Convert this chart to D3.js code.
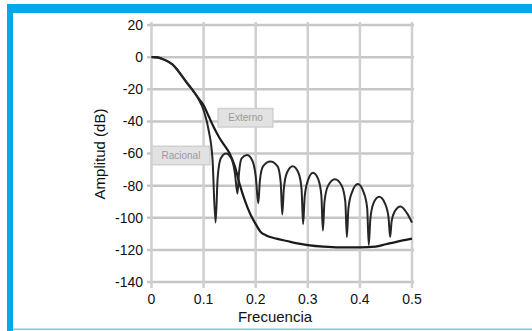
<!DOCTYPE html>
<html><head><meta charset="utf-8">
<script src="https://cdn.jsdelivr.net/npm/d3@7"></script>
<style>
html,body{margin:0;padding:0;background:#fff;}
svg{display:block;}
text{font-family:"Liberation Sans",Arial,sans-serif;fill:#111;}
</style></head>
<body><svg id="c" width="532" height="331"></svg>
<script>
const xTicks = [0, 0.1, 0.2, 0.3, 0.4, 0.5];
const xTickLabels = ["0", "0.1", "0.2", "0.3", "0.4", "0.5"];
const yTicks = [20, 0, -20, -40, -60, -80, -100, -120, -140];
const yTickLabels = ["20", "0", "-20", "-40", "-60", "-80", "-100", "-120", "-140"];
const seriesNames = ["Externo", "Racional"];

// Smooth curve
const freqA = [0, 0.01, 0.02, 0.03, 0.04, 0.05, 0.06, 0.07, 0.08, 0.09, 0.10, 0.11, 0.12, 0.13, 0.14, 0.15, 0.16, 0.17, 0.18, 0.19, 0.20, 0.21, 0.22, 0.24, 0.26, 0.28, 0.30, 0.33, 0.36, 0.40, 0.43, 0.45, 0.47, 0.50];
const dbA   = [0, 0, -1, -2.5, -4.5, -8, -12.5, -17, -21, -25.5, -30, -37, -44, -50, -55, -60, -68, -80, -90, -98, -104, -109, -111, -113, -114.5, -116, -117, -118, -118.5, -118.5, -118, -116.5, -115, -113];

// Curve with notches
const freqB = [0, 0.02, 0.04, 0.06, 0.08, 0.09, 0.10, 0.11, 0.117, 0.123,
  0.127, 0.133, 0.143, 0.153, 0.160, 0.165,
  0.168, 0.173, 0.183, 0.193, 0.200, 0.205,
  0.208, 0.214, 0.228, 0.242, 0.248, 0.251,
  0.254, 0.260, 0.271, 0.282, 0.288, 0.291,
  0.294, 0.300, 0.310, 0.320, 0.326, 0.329,
  0.332, 0.339, 0.352, 0.365, 0.372, 0.375,
  0.378, 0.385, 0.396, 0.407, 0.414, 0.417,
  0.420, 0.426, 0.437, 0.448, 0.455, 0.458,
  0.461, 0.467, 0.478, 0.490, 0.500];
const dbB = [0, -1, -4.5, -12.5, -21, -26, -33, -46, -63, -103,
  -75, -63, -60, -63, -72, -85,
  -72, -63, -61, -64, -74, -91,
  -77, -68, -65, -68, -78, -98,
  -82, -72, -68, -72, -82, -104,
  -87, -77, -72, -76, -86, -108,
  -90, -80, -76, -80, -90, -112,
  -94, -84, -79, -84, -94, -117,
  -101, -91, -87, -91, -100, -112,
  -102, -96, -93, -97, -103];

const svg = d3.select("#c");
const blue = "#00a9e8";
// frame
svg.append("rect").attr("x",7).attr("y",4).attr("width",525).attr("height",9).attr("fill",blue);
svg.append("rect").attr("x",7).attr("y",4).attr("width",6).attr("height",327).attr("fill",blue);
svg.append("rect").attr("x",13).attr("y",328.5).attr("width",519).attr("height",1.5).attr("fill","#6fcdf0");

const x = d3.scaleLinear().domain([0,0.5]).range([151.5,412]);
const y = d3.scaleLinear().domain([20,-140]).range([25,282]);

const grid = svg.append("g");
grid.selectAll("line.h").data(yTicks).join("line")
  .attr("x1",147).attr("x2",414).attr("y1",d=>y(d)).attr("y2",d=>y(d))
  .attr("stroke","#c6c6c6").attr("stroke-width",2.5);
grid.selectAll("line.v").data(xTicks).join("line")
  .attr("y1",22).attr("y2",288).attr("x1",d=>x(d)).attr("x2",d=>x(d))
  .attr("stroke","#cfcfcf").attr("stroke-width",2.5);

// tick labels
svg.append("g").selectAll("text").data(yTicks).join("text")
  .attr("x",143).attr("y",d=>y(d)).attr("dy","0.35em")
  .attr("text-anchor","end").attr("font-size",14)
  .text((d,i)=>yTickLabels[i]);
svg.append("g").selectAll("text").data(xTicks).join("text")
  .attr("x",d=>x(d)).attr("y",304)
  .attr("text-anchor","middle").attr("font-size",14)
  .text((d,i)=>xTickLabels[i]);

svg.append("text").attr("x",275).attr("y",322).attr("text-anchor","middle").attr("font-size",15).text("Frecuencia");
svg.append("text").attr("transform","translate(105,154) rotate(-90)").attr("text-anchor","middle").attr("font-size",15).text("Amplitud (dB)");

// series labels boxes
const boxes = [{x0:0.128,y0:-32,x1:0.233,y1:-43.5},{x0:0.001,y0:-55.5,x1:0.112,y1:-67}];
boxes.forEach((b,i)=>{
  svg.append("rect").attr("x",x(b.x0)).attr("y",y(b.y0)).attr("width",x(b.x1)-x(b.x0)).attr("height",y(b.y1)-y(b.y0))
    .attr("fill","#e2e2e2").attr("stroke","#d0d0d0").attr("stroke-width",1.5);
  svg.append("text").attr("x",(x(b.x0)+x(b.x1))/2).attr("y",(y(b.y0)+y(b.y1))/2).attr("dy","0.35em")
    .attr("text-anchor","middle").attr("font-size",10).style("fill","#9a9a9a").text(seriesNames[i]);
});

const line = d3.line().x(d=>x(d[0])).y(d=>y(d[1])).curve(d3.curveMonotoneX);
svg.append("path").datum(freqA.map((f,i)=>[f,dbA[i]])).attr("d",line)
  .attr("fill","none").attr("stroke","#1a1a1a").attr("stroke-width",2.2);
svg.append("path").datum(freqB.map((f,i)=>[f,dbB[i]])).attr("d",line)
  .attr("fill","none").attr("stroke","#262626").attr("stroke-width",2).attr("stroke-linejoin","miter");
</script></body></html>
